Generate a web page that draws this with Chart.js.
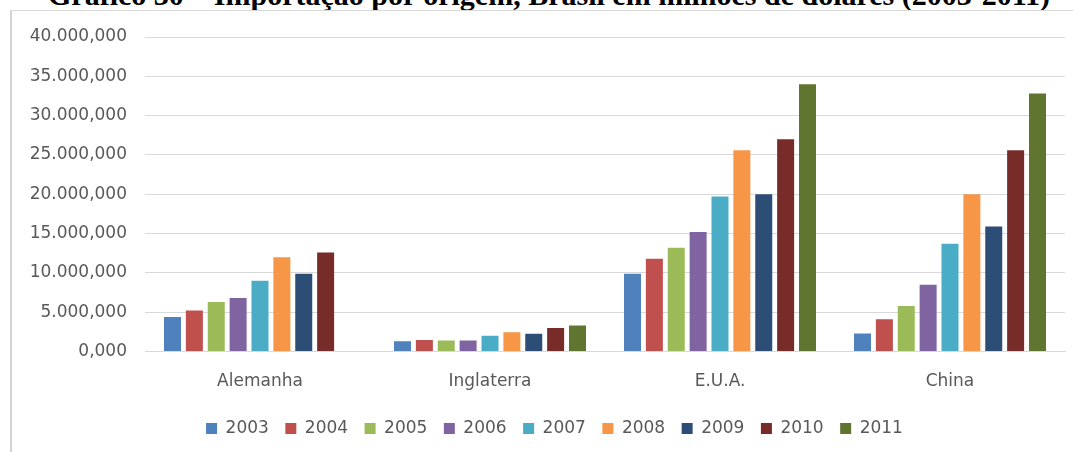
<!DOCTYPE html>
<html>
<head>
<meta charset="utf-8">
<script src="https://cdn.jsdelivr.net/npm/chart.js@4.4.1/dist/chart.umd.min.js"></script>
<style>
  html, body { margin: 0; padding: 0; background: #ffffff; overflow: hidden; }
  body { width: 1073px; height: 452px; position: relative; }
  #title { position: absolute; left: 48px; top: -20px; font: bold 30px "Liberation Serif", "Times New Roman", serif; line-height: 1; white-space: nowrap; color: #000; }
  #frame { position: absolute; left: 10px; top: 10px; width: 1070px; height: 460px; border-left: 2px solid #d4d4d4; border-top: 1px solid #d9d9d9; }
  #wrap { position: absolute; left: 0; top: 0; width: 1073px; height: 452px; }
</style>
</head>
<body>
<div id="title">Gráfico 30 – Importação por origem, Brasil em milhões de dólares (2003-2011)</div>
<div id="frame"></div>
<div id="wrap"><canvas id="c" width="1073" height="452"></canvas></div>
<script>
const categories = ["Alemanha", "Inglaterra", "E.U.A.", "China"];
const years = ["2003", "2004", "2005", "2006", "2007", "2008", "2009", "2010", "2011"];
const y2003 = [4400, 1300, 9900, 2300];
const y2004 = [5200, 1450, 11800, 4100];
const y2005 = [6300, 1400, 13200, 5800];
const y2006 = [6800, 1400, 15200, 8500];
const y2007 = [9000, 2000, 19700, 13700];
const y2008 = [12000, 2450, 25600, 20000];
const y2009 = [9900, 2250, 20000, 15900];
const y2010 = [12600, 3000, 27000, 25600];
const y2011 = [null, 3300, 34000, 32800];
const yTicks = [0, 5000, 10000, 15000, 20000, 25000, 30000, 35000, 40000];

const seriesValues = [y2003, y2004, y2005, y2006, y2007, y2008, y2009, y2010, y2011];
const colors = ["#4F81BD", "#C0504D", "#9BBB59", "#8064A2", "#4BACC6", "#F79646", "#2C4D75", "#772C2A", "#5F7530"];

function fmt(v) {
  const s = String(Math.round(v));
  const withDots = s.replace(/\B(?=(\d{3})+(?!\d))/g, ".");
  return withDots + ",000";
}

const FONT = "'DejaVu Sans', sans-serif";
const TXT = "#595959";

const legendShift = {
  id: "legendShift",
  afterLayout(chart) {
    const lg = chart.legend;
    if (lg) { lg.left += 12; lg.right += 12; }
  }
};

new Chart(document.getElementById("c"), {
  type: "bar",
  data: {
    labels: categories,
    datasets: years.map((y, i) => ({
      label: y,
      data: seriesValues[i],
      backgroundColor: colors[i],
      borderWidth: 0,
      categoryPercentage: 0.856,
      barPercentage: 0.777
    }))
  },
  plugins: [legendShift],
  options: {
    responsive: false,
    animation: false,
    devicePixelRatio: 1,
    layout: { padding: { left: 20, right: 8, top: 37, bottom: 5 } },
    plugins: {
      title: { display: false },
      tooltip: { enabled: false },
      legend: {
        position: "bottom",
        labels: {
          boxWidth: 11,
          boxHeight: 11,
          padding: 16.5,
          color: TXT,
          font: { family: FONT, size: 17 }
        }
      }
    },
    scales: {
      x: {
        grid: { display: false, drawTicks: false },
        border: { display: true, color: "#d9d9d9", width: 1 },
        ticks: { color: TXT, font: { family: FONT, size: 17 }, padding: 19.7 },
        afterFit: (s) => { s.height = 52; }
      },
      y: {
        min: 0,
        max: 40000,
        afterBuildTicks: (s) => { s.ticks = yTicks.map(v => ({ value: v })); },
        grid: { color: "#d9d9d9", drawTicks: false, lineWidth: 1 },
        border: { display: false },
        ticks: {
          color: TXT,
          font: { family: FONT, size: 17 },
          padding: 18,
          callback: (v) => fmt(v)
        },
        afterFit: (s) => { s.width = 125; }
      }
    }
  }
});
</script>
</body>
</html>
